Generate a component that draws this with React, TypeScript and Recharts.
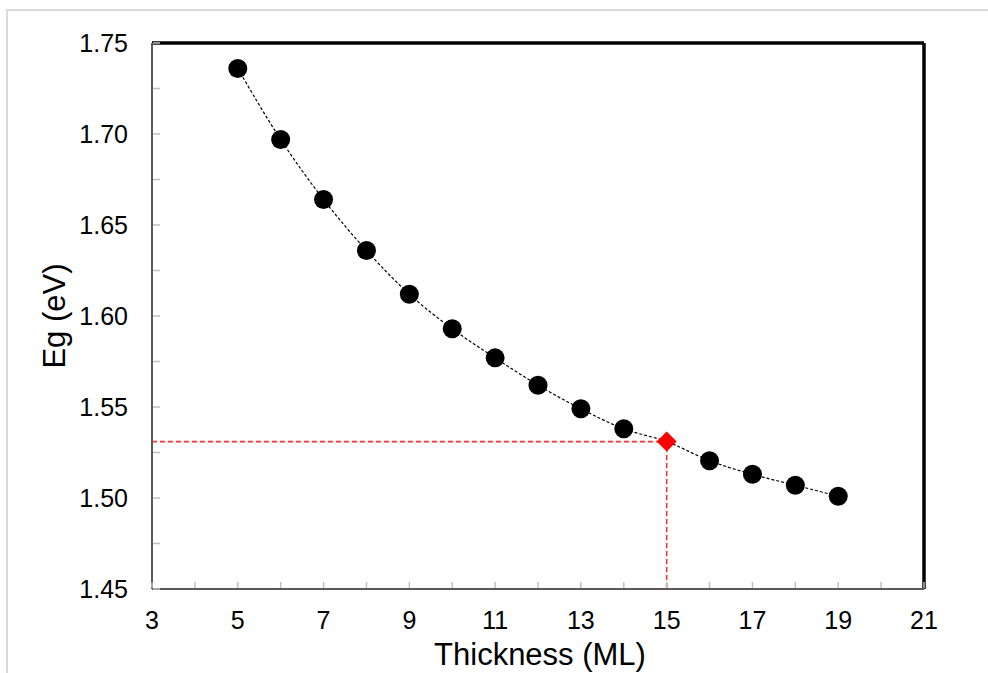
import {
  ComposedChart,
  XAxis,
  YAxis,
  Line,
  Scatter,
  ReferenceLine,
  Label,
} from "recharts";

// band gap vs. layer thickness
const thickness = [5, 6, 7, 8, 9, 10, 11, 12, 13, 14, 15, 16, 17, 18, 19];
const egValues = [
  1.736, 1.697, 1.664, 1.636, 1.612, 1.593, 1.577, 1.562, 1.549, 1.538, 1.531,
  1.5205, 1.513, 1.507, 1.501,
];
const markedThickness = 15;
const markedEg = 1.531;

const xTicks = [3, 4, 5, 6, 7, 8, 9, 10, 11, 12, 13, 14, 15, 16, 17, 18, 19, 20, 21];
const yTicks = [
  1.45, 1.475, 1.5, 1.525, 1.55, 1.575, 1.6, 1.625, 1.65, 1.675, 1.7, 1.725, 1.75,
];

const FONT = '"Liberation Sans", Arial, sans-serif';

const curve = thickness.map((t, i) => ({ x: t, y: egValues[i] }));
const dots = curve.filter((d) => d.x !== markedThickness);
const marked = [{ x: markedThickness, y: markedEg }];
const guide = [
  { x: xTicks[0], y: markedEg },
  { x: markedThickness, y: markedEg },
  { x: markedThickness, y: yTicks[0] },
];

function XTick(props: any) {
  const { x, y, payload } = props;
  const v = payload.value as number;
  return (
    <g>
      <line x1={x} x2={x} y1={y - 1} y2={y - 7} stroke="#bfbfbf" strokeWidth={1.5} />
      {v % 2 === 1 && (
        <text x={x} y={y + 40} textAnchor="middle" fontSize={25} fill="#000" fontFamily={FONT}>
          {v}
        </text>
      )}
    </g>
  );
}

function YTick(props: any) {
  const { x, y, payload } = props;
  const v = payload.value as number;
  const major = Math.round(v * 1000) % 50 === 0;
  return (
    <g>
      <line x1={x + 1} x2={x + 8} y1={y} y2={y} stroke="#bfbfbf" strokeWidth={1.5} />
      {major && (
        <text x={x - 24} y={y} dy="0.36em" textAnchor="end" fontSize={25} fill="#000" fontFamily={FONT}>
          {v.toFixed(2)}
        </text>
      )}
    </g>
  );
}

const circleShape = (p: any) => <circle cx={p.cx} cy={p.cy} r={9.5} fill="#000" />;
const diamondShape = (p: any) => {
  const r = 10;
  return (
    <polygon
      points={`${p.cx},${p.cy - r} ${p.cx + r},${p.cy} ${p.cx},${p.cy + r} ${p.cx - r},${p.cy}`}
      fill="#ff0000"
    />
  );
};

export default function App() {
  return (
    <div style={{ position: "absolute", left: 0, top: 0, width: 988, height: 673, background: "#fff" }}>
      <div
        style={{
          position: "absolute",
          left: 6,
          top: 9,
          right: 0,
          bottom: 0,
          borderTop: "2px solid #d9d9d9",
          borderLeft: "2px solid #d9d9d9",
        }}
      />
      <div style={{ position: "absolute", left: 0, top: 0 }}>
        <ComposedChart width={988} height={673} margin={{ top: 43, right: 64, left: 0, bottom: 0 }}>
          <XAxis
            type="number"
            dataKey="x"
            domain={[3, 21]}
            ticks={xTicks}
            interval={0}
            height={84}
            tickSize={0}
            tickMargin={0}
            tick={<XTick />}
            axisLine={{ stroke: "#595959", strokeWidth: 2 }}
          >
            <Label
              content={(props: any) => {
                const vb = props.viewBox;
                return (
                  <text
                    x={vb.x + vb.width / 2 + 2}
                    y={vb.y + vb.height - 8}
                    textAnchor="middle"
                    fontSize={31}
                    fill="#000"
                    fontFamily={FONT}
                  >
                    Thickness (ML)
                  </text>
                );
              }}
            />
          </XAxis>
          <YAxis
            type="number"
            dataKey="y"
            domain={[1.45, 1.75]}
            ticks={yTicks}
            interval={0}
            width={152}
            tickSize={0}
            tickMargin={0}
            tick={<YTick />}
            axisLine={{ stroke: "#595959", strokeWidth: 2 }}
          >
            <Label
              content={(props: any) => {
                const vb = props.viewBox;
                const cx = vb.x + 54;
                const cy = vb.y + vb.height / 2;
                return (
                  <text
                    x={cx}
                    y={cy}
                    dy="0.36em"
                    textAnchor="middle"
                    fontSize={31}
                    fill="#000"
                    fontFamily={FONT}
                    transform={`rotate(-90, ${cx}, ${cy})`}
                  >
                    Eg (eV)
                  </text>
                );
              }}
            />
          </YAxis>
          <ReferenceLine y={1.75} stroke="#000" strokeWidth={3.5} />
          <ReferenceLine x={21} stroke="#000" strokeWidth={3.5} />
          <Line
            data={guide}
            dataKey="y"
            type="linear"
            stroke="#ff3333"
            strokeWidth={1.6}
            strokeDasharray="5 3"
            dot={false}
            activeDot={false}
            isAnimationActive={false}
          />
          <Line
            data={curve}
            dataKey="y"
            type="monotone"
            stroke="#000"
            strokeWidth={1.2}
            strokeDasharray="3 2"
            dot={false}
            activeDot={false}
            isAnimationActive={false}
          />
          <Scatter data={dots} dataKey="y" shape={circleShape} isAnimationActive={false} />
          <Scatter data={marked} dataKey="y" shape={diamondShape} isAnimationActive={false} />
        </ComposedChart>
      </div>
    </div>
  );
}
